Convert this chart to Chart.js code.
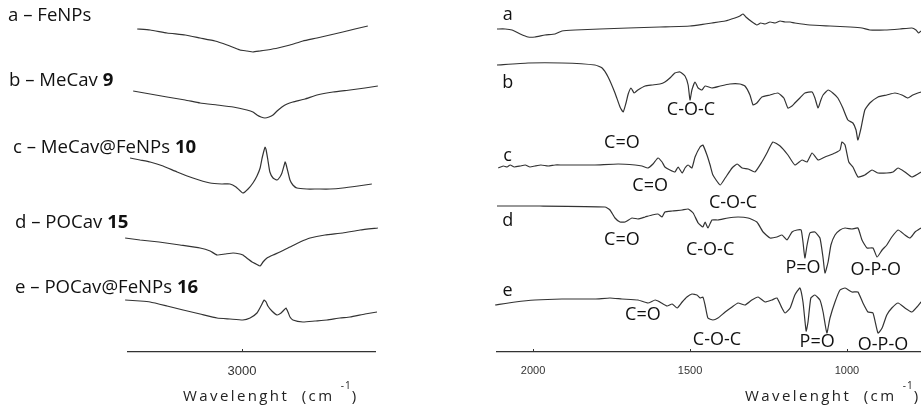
<!DOCTYPE html>
<html>
<head>
<meta charset="utf-8">
<script src="https://cdn.jsdelivr.net/npm/chart.js@4.4.1/dist/chart.umd.min.js"></script>
<style>
  body { margin: 0; background: #fff; }
  #page { position: relative; width: 921px; height: 412px; overflow: hidden; font-family: "Open Sans", sans-serif; color: #111; }
  .panel { position: absolute; top: 0; }
  .sample { position: absolute; font-size: 18.6px; line-height: 20px; white-space: nowrap; }
  .axis-title { position: absolute; top: 385px; font-size: 15px; line-height: 20px; letter-spacing: 2.4px; color: #222; white-space: nowrap; }
  .axis-title .sup { font-size: 10px; position: relative; top: -12px; letter-spacing: 1px; }
</style>
</head>
<body>
<div id="page">
  <div class="panel" style="left:0;width:470px;height:412px"><canvas id="chRegion" width="470" height="412"></canvas></div>
  <div class="panel" style="left:470px;width:451px;height:412px"><canvas id="fingerprintRegion" width="451" height="412"></canvas></div>

  <div class="sample" style="left:8px;top:4px">a – FeNPs</div>
  <div class="sample" style="left:9px;top:69px">b – MeCav <b>9</b></div>
  <div class="sample" style="left:13px;top:136px">c – MeCav@FeNPs <b>10</b></div>
  <div class="sample" style="left:15px;top:211px">d – POCav <b>15</b></div>
  <div class="sample" style="left:15px;top:276px">e – POCav@FeNPs <b>16</b></div>

  <div class="axis-title" style="left:183px">Wavelenght&nbsp; (cm <span class="sup">-1</span>)</div>
  <div class="axis-title" style="left:745px">Wavelenght&nbsp; (cm <span class="sup">-1</span>)</div>
</div>

<script>
// C-H stretching region, [wavenumber, relative transmittance]
const chFeNPs = [[3365,0],[3320,-1],[3261,-4],[3198,-6],[3146,-9],[3094,-12],[3052,-16],[3007,-21],[2983,-22],[2962,-23],[2937,-22],[2913,-21],[2875,-19],[2833,-16],[2788,-12],[2739,-9],[2694,-6],[2649,-3],[2607,0],[2562,3]];
const chMeCav = [[3379,0],[3320,-3],[3261,-6],[3198,-9],[3146,-12],[3087,-14],[3031,-16],[2983,-19],[2962,-21],[2948,-24],[2934,-26],[2920,-27],[2906,-26],[2892,-24],[2878,-20],[2861,-16],[2843,-13],[2823,-11],[2781,-8],[2739,-4],[2683,-1],[2624,1],[2572,3],[2527,5]];
const chMeCavFe = [[3390,0],[3355,-2],[3320,-4],[3275,-8],[3226,-14],[3171,-20],[3111,-25],[3070,-26],[3042,-26],[3021,-29],[2997,-35],[2979,-31],[2962,-25],[2948,-18],[2937,-10],[2930,0],[2923,8],[2920,11],[2916,8],[2910,-2],[2903,-14],[2892,-20],[2878,-22],[2868,-19],[2861,-15],[2854,-8],[2850,-4],[2847,-6],[2840,-14],[2833,-22],[2823,-27],[2809,-30],[2774,-31],[2739,-31],[2694,-31],[2649,-30],[2596,-28],[2548,-26]];
const chPOCav = [[3407,0],[3355,-2],[3289,-4],[3216,-7],[3146,-10],[3111,-13],[3087,-17],[3059,-16],[3031,-15],[3007,-16],[2997,-17],[2979,-21],[2965,-24],[2951,-26],[2937,-28],[2927,-24],[2913,-20],[2892,-17],[2868,-14],[2833,-9],[2798,-4],[2763,0],[2711,3],[2649,5],[2589,8],[2527,10]];
const chPOCavFe = [[3407,0],[3355,-1],[3320,-2],[3261,-6],[3205,-10],[3146,-14],[3087,-18],[3042,-19],[2997,-20],[2972,-18],[2948,-13],[2934,-6],[2923,0],[2916,-2],[2910,-6],[2896,-11],[2878,-15],[2864,-13],[2854,-10],[2847,-8],[2840,-12],[2833,-17],[2823,-20],[2788,-22],[2746,-21],[2704,-20],[2659,-18],[2624,-17],[2572,-14],[2530,-12]];

// fingerprint region, [wavenumber, relative transmittance]
const fpFeNPs = [[2115,0],[2089,0],[2067,-1],[2041,-5],[2016,-8],[1994,-8],[1962,-6],[1930,-5],[1908,-2],[1866,-1],[1787,0],[1697,1],[1596,2],[1500,3],[1452,5],[1430,6],[1388,8],[1357,11],[1341,13],[1331,15],[1322,12],[1302,7],[1287,4],[1275,6],[1261,5],[1245,7],[1229,6],[1213,8],[1197,7],[1181,7],[1166,6],[1118,4],[1054,3],[990,2],[952,1],[927,-1],[879,-1],[831,0],[793,1],[780,-1],[771,-4],[764,-2]];
const fpMeCav = [[2115,0],[2016,2],[1908,2],[1803,0],[1780,-3],[1761,-12],[1739,-28],[1723,-42],[1713,-47],[1704,-38],[1697,-29],[1688,-23],[1678,-28],[1666,-25],[1643,-21],[1621,-20],[1596,-19],[1580,-17],[1564,-13],[1548,-8],[1532,-7],[1516,-11],[1506,-20],[1500,-35],[1494,-25],[1484,-17],[1474,-23],[1462,-25],[1452,-21],[1430,-23],[1404,-21],[1373,-19],[1341,-19],[1325,-21],[1309,-30],[1299,-40],[1287,-38],[1271,-32],[1245,-30],[1220,-28],[1201,-33],[1188,-43],[1175,-41],[1166,-38],[1150,-33],[1134,-28],[1111,-27],[1102,-33],[1092,-43],[1083,-35],[1076,-30],[1060,-25],[1045,-28],[1029,-33],[1013,-43],[997,-55],[981,-58],[971,-65],[965,-75],[955,-63],[943,-45],[927,-38],[901,-32],[873,-30],[847,-28],[825,-30],[806,-33],[790,-30],[774,-28],[764,-27]];
const fpMeCavFe = [[2111,-2],[2095,0],[2083,-1],[2073,1],[2060,-1],[2041,0],[2025,1],[2010,-1],[1994,0],[1975,1],[1952,0],[1930,1],[1908,1],[1850,1],[1803,1],[1729,2],[1675,1],[1653,0],[1634,-2],[1618,2],[1602,8],[1589,4],[1580,-1],[1564,-4],[1548,-6],[1538,-1],[1525,-7],[1516,-2],[1506,1],[1494,-2],[1484,9],[1468,19],[1459,21],[1446,11],[1436,1],[1427,-9],[1404,-19],[1388,-12],[1366,-2],[1350,2],[1334,-2],[1315,-3],[1293,-6],[1271,4],[1255,13],[1236,24],[1213,20],[1188,11],[1166,1],[1143,6],[1127,4],[1111,13],[1092,6],[1070,9],[1038,13],[1022,16],[1016,24],[1006,21],[994,4],[981,-1],[965,-11],[943,-9],[920,-4],[901,-7],[873,-7],[853,-6],[837,-2],[815,-6],[793,-11],[774,-8],[764,-6]];
const fpPOCav = [[2115,1],[1978,1],[1771,0],[1755,-3],[1739,-11],[1723,-15],[1707,-15],[1685,-11],[1666,-12],[1643,-10],[1621,-8],[1602,-7],[1589,-10],[1580,-5],[1557,-4],[1525,-3],[1506,-2],[1490,-6],[1474,-16],[1459,-20],[1452,-15],[1443,-21],[1430,-13],[1411,-13],[1379,-11],[1347,-10],[1315,-11],[1287,-15],[1267,-25],[1245,-31],[1223,-30],[1207,-28],[1191,-33],[1175,-25],[1159,-23],[1146,-23],[1140,-35],[1134,-51],[1127,-38],[1118,-26],[1102,-25],[1086,-31],[1076,-51],[1070,-66],[1060,-55],[1051,-38],[1038,-28],[1022,-23],[1006,-21],[984,-22],[965,-21],[952,-33],[936,-41],[917,-41],[904,-50],[888,-43],[873,-38],[857,-30],[837,-23],[815,-28],[799,-31],[783,-25],[764,-21]];
const fpPOCavFe = [[2121,-5],[2057,-2],[1994,0],[1908,1],[1803,1],[1755,2],[1717,1],[1666,0],[1634,-3],[1611,0],[1596,-2],[1573,-6],[1557,-4],[1541,-8],[1525,-2],[1510,3],[1494,6],[1478,5],[1468,2],[1459,3],[1452,-5],[1443,-18],[1427,-20],[1411,-18],[1388,-12],[1366,-7],[1347,-3],[1325,-5],[1303,0],[1283,3],[1261,-2],[1239,0],[1223,2],[1207,-8],[1197,-13],[1181,-8],[1166,5],[1150,12],[1140,-2],[1130,-31],[1124,-22],[1115,2],[1102,5],[1086,0],[1076,-12],[1064,-33],[1054,-18],[1038,-2],[1022,10],[1006,12],[984,8],[965,8],[949,-3],[933,-12],[917,-13],[901,-33],[888,-28],[873,-15],[857,-8],[837,-3],[815,-8],[793,-12],[777,-7],[764,-2]];

// vertical stacking of the five spectra (a..e)
const chOffsets = [323, 261, 194, 114, 52];
const fpOffsets = [323, 287, 186, 145, 52];

const chRange = [2537, 3397];
const fpRange = [764, 2115];
const chTicks = [3000];
const fpTicks = [2000, 1500, 1000];

// sample letters and band assignments in the fingerprint panel
const fpNotes = [
  { text: 'a', wn: 2081, level: 337 },
  { text: 'b', wn: 2081, level: 269 },
  { text: 'c', wn: 2081, level: 196 },
  { text: 'd', wn: 2081, level: 131 },
  { text: 'e', wn: 2081, level: 61 },
  { text: 'C=O', wn: 1717, level: 209 },
  { text: 'C-O-C', wn: 1497, level: 242 },
  { text: 'C=O', wn: 1627, level: 166 },
  { text: 'C-O-C', wn: 1363, level: 149 },
  { text: 'C=O', wn: 1717, level: 112 },
  { text: 'C-O-C', wn: 1436, level: 102 },
  { text: 'P=O', wn: 1140, level: 84 },
  { text: 'O-P-O', wn: 908, level: 82 },
  { text: 'C=O', wn: 1650, level: 37 },
  { text: 'C-O-C', wn: 1414, level: 12 },
  { text: 'P=O', wn: 1095, level: 10 },
  { text: 'O-P-O', wn: 885, level: 7 }
];

const spectrumNotes = {
  id: 'spectrumNotes',
  afterDatasetsDraw(chart, args, opts) {
    const { ctx, scales: { x, y } } = chart;
    ctx.save();
    // small inward tick marks on the axis line
    ctx.strokeStyle = '#333';
    ctx.lineWidth = 1;
    x.ticks.forEach(t => {
      const px = Math.round(x.getPixelForValue(t.value)) + 0.5;
      ctx.beginPath();
      ctx.moveTo(px, y.bottom);
      ctx.lineTo(px, y.bottom - 3);
      ctx.stroke();
    });
    ctx.font = '18px "Open Sans"';
    ctx.fillStyle = '#111';
    ctx.textAlign = 'center';
    ctx.textBaseline = 'middle';
    (opts.notes || []).forEach(n => {
      ctx.fillText(n.text, x.getPixelForValue(n.wn), y.getPixelForValue(n.level));
    });
    ctx.restore();
  }
};

function makeSpectra(canvasId, traces, offsets, range, tickValues, pad, tickFont, notes) {
  const ctx = document.getElementById(canvasId);
  const datasets = traces.map((pts, i) => ({
    data: pts.map(([wn, v]) => ({ x: wn, y: v + offsets[i] })),
    borderColor: '#333',
    borderWidth: 1.2,
    pointRadius: 0,
    tension: 0.15,
    clip: false
  }));

  return new Chart(ctx, {
    type: 'line',
    data: { datasets },
    plugins: [spectrumNotes],
    options: {
      responsive: false,
      animation: false,
      devicePixelRatio: 1,
      layout: { autoPadding: false, padding: { left: pad[0], right: pad[1], top: 0, bottom: 32 } },
      plugins: {
        legend: { display: false },
        tooltip: { enabled: false },
        spectrumNotes: { notes }
      },
      scales: {
        x: {
          type: 'linear',
          reverse: true,
          min: range[0],
          max: range[1],
          grid: { display: false },
          border: { display: true, color: '#333', width: 1.3 },
          ticks: {
            color: '#333',
            font: { family: '"Liberation Sans", Arial, sans-serif', size: tickFont },
            padding: 4,
            maxRotation: 0,
            autoSkip: false,
            callback: v => String(v)
          },
          afterBuildTicks: s => { s.ticks = tickValues.map(v => ({ value: v })); },
          afterFit: s => { s.height = 28; }
        },
        y: { display: false, min: 0, max: 352 }
      }
    }
  });
}

makeSpectra('chRegion',
  [chFeNPs, chMeCav, chMeCavFe, chPOCav, chPOCavFe],
  chOffsets, chRange, chTicks, [128, 95], 13, []);

makeSpectra('fingerprintRegion',
  [fpFeNPs, fpMeCav, fpMeCavFe, fpPOCav, fpPOCavFe],
  fpOffsets, fpRange, fpTicks, [27, 0], 11, fpNotes);
</script>
</body>
</html>
